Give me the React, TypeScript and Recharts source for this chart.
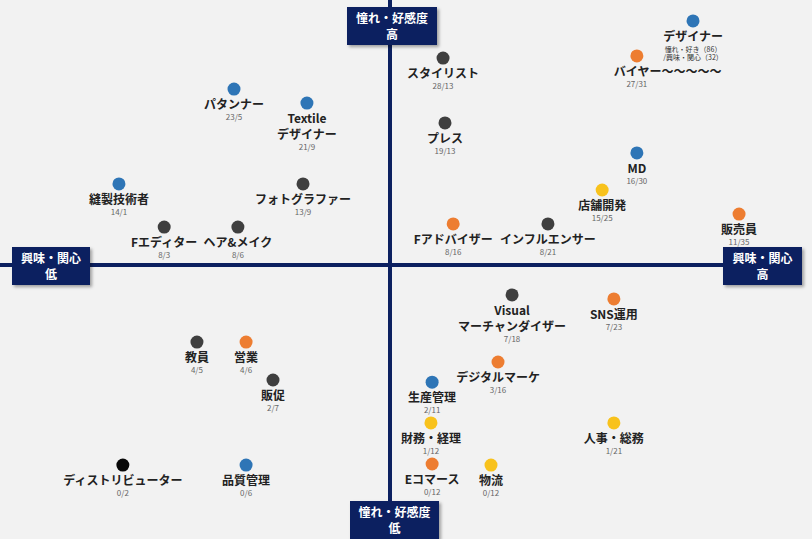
import React from 'react'
import { ScatterChart, Scatter, XAxis, YAxis, ReferenceLine } from 'recharts'

// 職種ごとの位置（横: 興味・関心、縦: 憧れ・好感度）
const jobs = [
  'デザイナー', 'バイヤー〜〜〜〜〜', 'スタイリスト', 'パタンナー', 'Textile\nデザイナー', 'プレス',
  'MD', '店舗開発', '縫製技術者', 'フォトグラファー', 'Fエディター', 'ヘア&メイク',
  'Fアドバイザー', 'インフルエンサー', '販売員', 'Visual\nマーチャンダイザー', 'SNS運用', 'デジタルマーケ',
  '生産管理', '財務・経理', '人事・総務', 'Eコマース', '物流', '教員',
  '営業', '販促', 'ディストリビューター', '品質管理',
]
const interest = [
  77.7, 63.3, 13.6, -40, -21.3, 14.1,
  63.3, 54.4, -69.5, -22.3, -57.9, -39,
  16.2, 40.5, 89.5, 31.3, 57.4, 27.7,
  10.8, 10.5, 57.4, 10.8, 25.9, -49.5,
  -36.9, -30, -68.5, -36.9,
]
const longing = [
  92.1, 78.9, 78.1, 66.4, 61.1, 53.6,
  42.3, 28.3, 30.6, 30.6, 14.3, 14.3,
  15.5, 15.5, 19.2, -11.3, -12.8, -36.6,
  -44.2, -59.6, -59.6, -75.1, -75.5, -29.1,
  -29.1, -43.4, -75.5, -75.5,
]
const counts = [
  '憧れ・好き（86）\n/興味・関心（32）', '27/31', '28/13', '23/5', '21/9', '19/13',
  '16/30', '15/25', '14/1', '13/9', '8/3', '8/6',
  '8/16', '8/21', '11/35', '7/18', '7/23', '3/16',
  '2/11', '1/12', '1/21', '0/12', '0/12', '4/5',
  '4/6', '2/7', '0/2', '0/6',
]
const groups = [
  'blue', 'orange', 'dark', 'blue', 'blue', 'dark',
  'blue', 'yellow', 'blue', 'dark', 'dark', 'dark',
  'orange', 'dark', 'orange', 'dark', 'orange', 'orange',
  'blue', 'yellow', 'yellow', 'orange', 'yellow', 'dark',
  'orange', 'dark', 'black', 'blue',
]

const colors: Record<string, string> = {
  blue: '#2e75b6',
  orange: '#ed7d31',
  yellow: '#f8c21c',
  dark: '#3f3f3f',
  black: '#080808',
}

const data = jobs.map((name, i) => ({
  name, x: interest[i], y: longing[i], count: counts[i], group: groups[i],
}))

const NAVY = '#0c2060'
const FONT = '"Noto Sans CJK JP", "Noto Sans", sans-serif'

const JobDot = (props: any) => {
  const { cx, cy, payload } = props
  const lines: string[] = payload.name.split('\n')
  const subs: string[] = payload.count.split('\n')
  const wavy = payload.name.includes('〜')
  const last = 20 + (lines.length - 1) * 16
  return (
    <g>
      <circle cx={cx} cy={cy} r={6.5} fill={colors[payload.group]} />
      {lines.map((l, k) => (
        <text key={k} x={wavy ? cx - 23 : cx} y={cy + 20 + k * 16}
              textAnchor={wavy ? 'start' : 'middle'}
              fontSize={12} fontWeight={600} fill="#222" fontFamily={FONT}>
          {l}
        </text>
      ))}
      {subs.map((s, k) => (
        <text key={'s' + k} x={cx} y={cy + last + 11 + k * 8.5} textAnchor="middle"
              fontSize={subs.length > 1 ? 7 : 8} fill={subs.length > 1 ? '#333' : '#666'}
              fontFamily={FONT}>
          {s}
        </text>
      ))}
    </g>
  )
}

const AxisBox: React.FC<{ left: number; top: number; w: number; h: number; lines: string[] }> =
  ({ left, top, w, h, lines }) => (
    <div style={{
      position: 'absolute', left, top, width: w, height: h, background: NAVY,
      color: '#fff', fontFamily: FONT, fontSize: 12, fontWeight: 700, lineHeight: '16px',
      display: 'flex', flexDirection: 'column', alignItems: 'center', justifyContent: 'center',
      boxShadow: '2px 2px 3px rgba(0,0,0,0.35)',
    }}>
      {lines.map((l) => <div key={l}>{l}</div>)}
    </div>
  )

export default function App() {
  return (
    <div style={{ position: 'relative', width: 812, height: 539, background: '#f2f2f2', overflow: 'hidden' }}>
      <style>{'body{margin:0}'}</style>
      <ScatterChart width={812} height={539} margin={{ top: 0, right: 32, bottom: 9, left: 0 }}>
        <XAxis type="number" dataKey="x" domain={[-100, 100]} hide />
        <YAxis type="number" dataKey="y" domain={[-100, 100]} hide />
        <ReferenceLine x={0} stroke={NAVY} strokeWidth={4} />
        <ReferenceLine y={0} stroke={NAVY} strokeWidth={4} />
        <Scatter data={data} shape={JobDot} isAnimationActive={false} />
      </ScatterChart>
      <AxisBox left={347} top={7} w={90} h={38} lines={['憧れ・好感度', '高']} />
      <AxisBox left={350} top={501} w={89} h={38} lines={['憧れ・好感度', '低']} />
      <AxisBox left={12} top={247} w={78} h={38} lines={['興味・関心', '低']} />
      <AxisBox left={723} top={247} w={79} h={38} lines={['興味・関心', '高']} />
    </div>
  )
}
